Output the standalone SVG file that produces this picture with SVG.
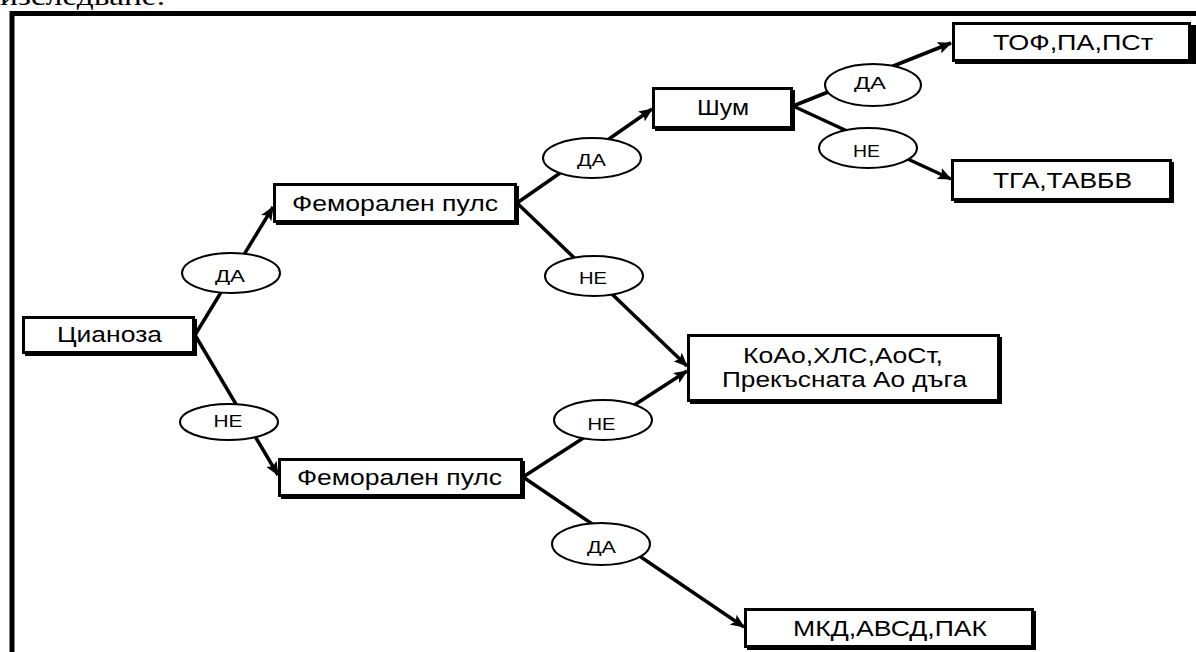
<svg xmlns="http://www.w3.org/2000/svg" width="1196" height="652" viewBox="0 0 1196 652">
<defs>
<style>
.box{fill:#fff;stroke:#000;stroke-width:3}
.sh{fill:#000}
.lbl{fill:#fff;stroke:#000;stroke-width:2}
.t{font-family:"Liberation Sans",Arial,sans-serif;font-size:22px;fill:#000;text-anchor:middle}
.s{font-family:"Liberation Sans",Arial,sans-serif;font-size:16px;fill:#000;text-anchor:middle}
.c{fill:none;stroke:#000;stroke-width:3.5;marker-end:url(#ah)}
</style>
<marker id="ah" markerUnits="userSpaceOnUse" markerWidth="14" markerHeight="12" viewBox="0 0 14 12" refX="13" refY="6" orient="auto">
<path d="M0,0 L14,6 L0,12 L3,6 Z" fill="#000"/>
</marker>
</defs>
<rect width="1196" height="652" fill="#fff"/>
<text x="0" y="5" font-family="'Liberation Serif','Times New Roman',serif" font-size="26" textLength="165" lengthAdjust="spacingAndGlyphs">изследване.</text>
<path d="M12,652 V13.5 H1196" fill="none" stroke="#000" stroke-width="5"/>

<g id="connectors">
<line class="c" x1="195" y1="335" x2="273" y2="207"/>
<line class="c" x1="195" y1="335" x2="278" y2="475"/>
<line class="c" x1="517" y1="203" x2="652" y2="109"/>
<line class="c" x1="517" y1="203" x2="687" y2="366"/>
<line class="c" x1="523" y1="477" x2="687" y2="371"/>
<line class="c" x1="523" y1="477" x2="744" y2="627"/>
<line class="c" x1="793" y1="106" x2="951" y2="43"/>
<line class="c" x1="793" y1="106" x2="951" y2="179"/>
</g>

<g id="lbl-da1"><ellipse class="lbl" cx="231" cy="273" rx="49" ry="20"/><text class="s" x="230" y="282" textLength="30" lengthAdjust="spacingAndGlyphs">ДА</text></g>
<g id="lbl-ne1"><ellipse class="lbl" cx="229" cy="422" rx="49" ry="18"/><text class="s" x="228" y="427" textLength="29" lengthAdjust="spacingAndGlyphs">НЕ</text></g>
<g id="lbl-da2"><ellipse class="lbl" cx="592" cy="158" rx="49" ry="20"/><text class="s" x="591.5" y="166" textLength="29" lengthAdjust="spacingAndGlyphs">ДА</text></g>
<g id="lbl-ne2"><ellipse class="lbl" cx="594" cy="276" rx="49" ry="20"/><text class="s" x="593" y="284" textLength="28" lengthAdjust="spacingAndGlyphs">НЕ</text></g>
<g id="lbl-ne3"><ellipse class="lbl" cx="603" cy="420" rx="49" ry="20"/><text class="s" x="601.5" y="430" textLength="28" lengthAdjust="spacingAndGlyphs">НЕ</text></g>
<g id="lbl-da3"><ellipse class="lbl" cx="601" cy="544" rx="49" ry="21"/><text class="s" x="601.5" y="553" textLength="29" lengthAdjust="spacingAndGlyphs">ДА</text></g>
<g id="lbl-da4"><ellipse class="lbl" cx="873" cy="85" rx="48" ry="21"/><text class="s" x="870" y="89" textLength="32" lengthAdjust="spacingAndGlyphs">ДА</text></g>
<g id="lbl-ne4"><ellipse class="lbl" cx="868" cy="148" rx="49" ry="20"/><text class="s" x="866.5" y="157" textLength="27" lengthAdjust="spacingAndGlyphs">НЕ</text></g>

<g id="n-cyanosis"><rect class="sh" x="25" y="319" width="172" height="37"/><rect class="box" x="23.5" y="317.5" width="170" height="35"/><text class="t" x="109.5" y="342" textLength="105" lengthAdjust="spacingAndGlyphs">Цианоза</text></g>
<g id="n-fem-top"><rect class="sh" x="276" y="186" width="243" height="39"/><rect class="box" x="274.5" y="184.5" width="241" height="37"/><text class="t" x="395" y="211" textLength="206" lengthAdjust="spacingAndGlyphs">Феморален пулс</text></g>
<g id="n-fem-bot"><rect class="sh" x="281" y="461" width="244" height="38"/><rect class="box" x="279.5" y="459.5" width="242" height="36"/><text class="t" x="399.5" y="485" textLength="205" lengthAdjust="spacingAndGlyphs">Феморален пулс</text></g>
<g id="n-shum"><rect class="sh" x="655" y="90" width="140" height="41"/><rect class="box" x="653.5" y="88.5" width="138" height="39"/><text class="t" x="723" y="115" textLength="52" lengthAdjust="spacingAndGlyphs">Шум</text></g>
<g id="n-tof"><rect class="sh" x="955" y="25" width="241" height="39"/><rect class="box" x="953.5" y="23.5" width="236" height="37"/><text class="t" x="1073" y="50" textLength="160" lengthAdjust="spacingAndGlyphs">ТОФ,ПА,ПСт</text></g>
<g id="n-tga"><rect class="sh" x="954" y="162" width="220" height="41"/><rect class="box" x="952.5" y="160.5" width="218" height="39"/><text class="t" x="1062.5" y="188" textLength="139" lengthAdjust="spacingAndGlyphs">ТГА,ТАВБВ</text></g>
<g id="n-koao"><rect class="sh" x="690" y="337" width="312" height="67"/><rect class="box" x="688.5" y="335.5" width="310" height="65"/><text class="t" x="843" y="363" textLength="200" lengthAdjust="spacingAndGlyphs">КоАо,ХЛС,АоСт,</text><text class="t" x="844.5" y="387" textLength="245" lengthAdjust="spacingAndGlyphs">Прекъсната Ао дъга</text></g>
<g id="n-mkd"><rect class="sh" x="747" y="611" width="289" height="39"/><rect class="box" x="745.5" y="609.5" width="287" height="37"/><text class="t" x="890" y="636" textLength="194" lengthAdjust="spacingAndGlyphs">МКД,АВСД,ПАК</text></g>
</svg>
